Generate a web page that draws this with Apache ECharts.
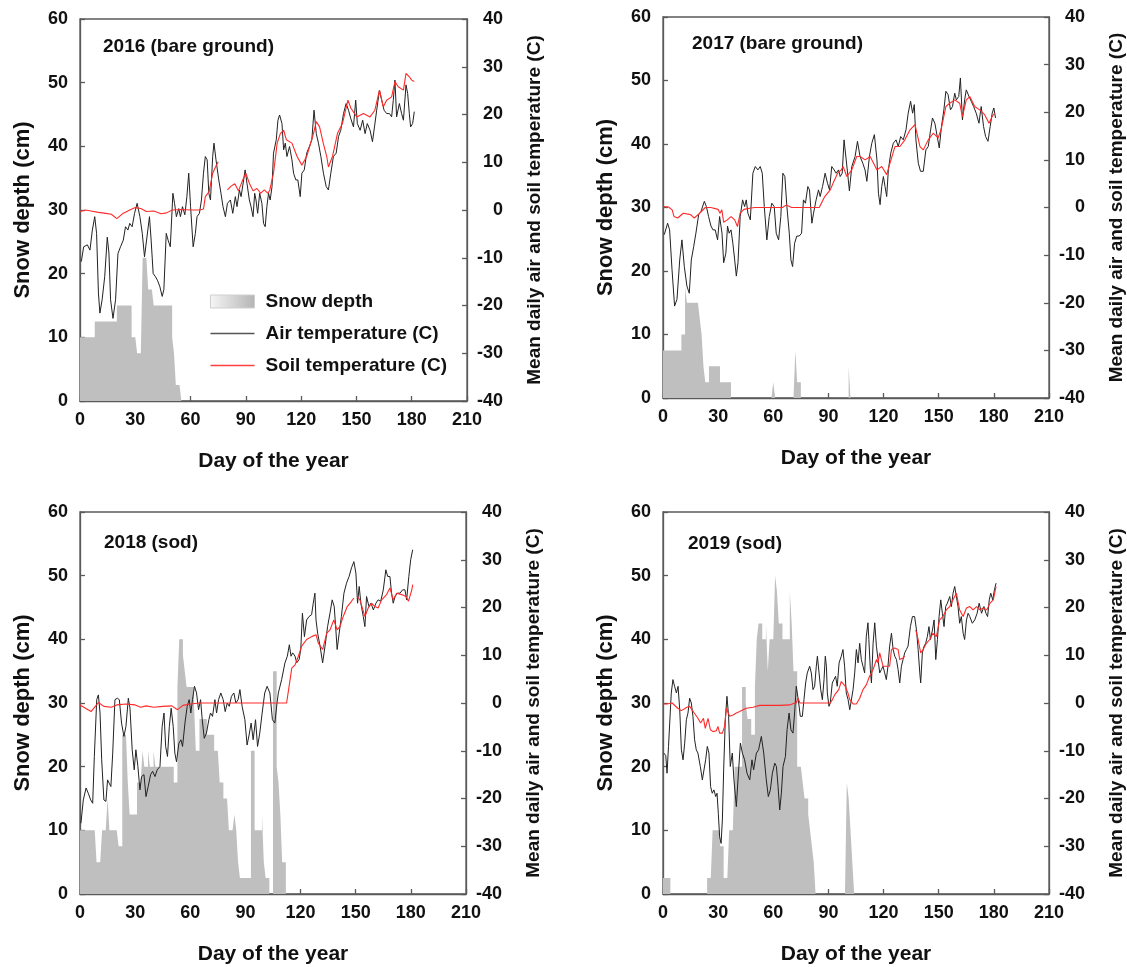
<!DOCTYPE html>
<html><head><meta charset="utf-8">
<script src="https://cdn.jsdelivr.net/npm/echarts@6/dist/echarts.min.js"></script>
<style>html,body{margin:0;padding:0;background:#fff}#c{width:1127px;height:967px}</style>
</head><body><div id="c"></div>
<script>
// ---------- DATA ----------
const panelTitles = ['2016 (bare ground)', '2017 (bare ground)', '2018 (sod)', '2019 (sod)'];
const xTicks = [0, 30, 60, 90, 120, 150, 180, 210];
const snowTicks = [0, 10, 20, 30, 40, 50, 60];
const tempTicks = [-40, -30, -20, -10, 0, 10, 20, 30, 40];

// daily snow depth (cm), index = day of year (0 ...), days after the array end = 0
const snow2016 = [10,10,10,10,10,10,10,10,
 12.5,12.5,12.5,12.5,12.5,12.5,12.5,12.5,12.5,12.5,12.5,12.5,
 15,15,15,15,15,15,15,15,
 10,10,10,7.5,7.5,7.5,22.5,22.5,22.5,17.5,17.5,17.5,
 15,15,15,15,15,15,15,15,15,15,
 10,7.5,2.5,2.5,2.5,0];
const snow2017 = [7.5,7.5,7.5,7.5,7.5,7.5,7.5,7.5,7.5,7.5,
 10,10,17.5,15,15,15,15,15,15,15,
 12.5,10,5,2.5,2.5,5,5,5,5,5,
 5,2.5,2.5,2.5,2.5,2.5,2.5,0,0,0,
 0,0,0,0,0,0,0,0,0,0,
 0,0,0,0,0,0,0,0,0,0,
 2.5,0,0,0,0,0,0,0,0,0,
 0,0,7.5,2.5,2.5,0,0,0,0,0,
 0,0,0,0,0,0,0,0,0,0,
 0,0,0,0,0,0,0,0,0,0,
 0,5,0];
const snow2018 = [10,10,10,10,10,10,10,10,10,5,
 5,5,10,10,10,15,10,10,10,10,
 10,7.5,7.5,25,25,25,17.5,12.5,12.5,12.5,
 12.5,17.5,17.5,17.5,22.5,20,20,22.5,20,20,
 22.5,20,20,20,20,20,20,20,20,20,
 20,17.5,17.5,32.5,40,40,37.5,35,32.5,32.5,
 32.5,32.5,30,22.5,22.5,27.5,27.5,27.5,27.5,25,
 25,25,25,22.5,22.5,22.5,17.5,17.5,15,15,
 15,10,10,10,12.5,10,5,2.5,2.5,2.5,
 2.5,2.5,2.5,22.5,22.5,10,10,10,10,12.5,
 5,2.5,2.5,0,0,35,35,20,17.5,12.5,
 5,5,0];
const snow2019 = [2.5,2.5,2.5,2.5,0,0,0,0,0,0,
 0,0,0,0,0,0,0,0,0,0,
 0,0,0,0,2.5,2.5,2.5,10,10,10,
 10,7.5,7.5,2.5,2.5,2.5,10,10,10,20,
 20,20,20,32.5,32.5,30,27.5,27.5,25,25,
 32.5,40,42.5,42.5,40,40,42.5,35,40,40,
 40,50,47.5,42.5,42.5,40,40,40,40,47.5,
 42.5,35,35,20,20,20,17.5,15,15,12.5,
 10,7.5,5,0,0,0,0,0,0,0,
 0,0,0,0,0,0,0,0,0,0,
 17.5,15,10,5,0];

// mean daily air temperature (C): [day, value]
const air2016 = [[0.7,-10.8],[2,-7.7],[4,-7.3],[5.4,-8.4],[6.7,-4.2],[8,-1.4],[9,-4.9],[10,-17.4],[10.8,-21.6],[12,-18.8],[13.4,-14],[14.8,-5.7],[15.7,-9],[16.6,-18.8],[17.9,-22.7],[19.3,-18.8],[20.6,-9.1],[22,-7.7],[23.5,-6.3],[24.7,-3.5],[26,-4.2],[27,-2.8],[28.3,-3.5],[29.6,-0.7],[31,1.4],[32.5,-1.4],[33.8,-4.9],[35,-9.8],[36,-9.8],[37.7,-1.4],[38.6,-6.3],[39.7,-13.3],[41,-14],[42,-14.7],[43.3,-16],[44.6,-18.1],[45.5,-16.7],[46.8,-4.9],[47.8,-6.3],[49,-7.7],[50.4,3.5],[51.3,1.4],[52.3,-1.4],[53.6,0.3],[54.5,-1.4],[55.6,0.7],[56.9,-1],[58,2.8],[59,7.7],[60,0.7],[61.4,-7.7],[62.6,-4.9],[63.5,-1.4],[64.8,-0.7],[65.9,2.1],[67,7.7],[68,11.2],[69,10.5],[69.9,3.5],[70.8,2.1],[72,11.2],[72.7,14],[73.8,10.5],[75.3,6.3],[76.5,3.5],[77.6,0.7],[78.9,-1.4],[80,1.4],[81.6,2.1],[82.9,-0.7],[84.3,2.8],[85.2,0.7],[86.5,4.2],[87.4,2.8],[88.8,6.3],[89.6,8.4],[90.6,5.6],[91.9,2.1],[92.8,0.7],[93.9,-1.4],[94.8,3.5],[95.5,2.1],[96.4,-0.7],[97.5,3.5],[98.7,1.4],[99.6,-2.8],[100.5,-3.5],[101.4,0.7],[102.3,3.5],[103.2,2.1],[104.2,4.9],[105,11.9],[106.5,14.7],[107.4,18.8],[108.3,19.9],[109.6,18.1],[110.5,12.6],[111.4,14],[112.3,11.2],[113.7,13.3],[115,10.5],[115.9,7.7],[117.1,6.3],[118.2,6.3],[119.5,2.8],[120.4,7.7],[121.7,8.4],[123,11.9],[124.5,13.3],[125.8,14.7],[127,20.9],[128.2,16],[129.4,14],[130.7,11.2],[132.1,7.7],[133.6,4.9],[134.8,4.2],[136.1,7.7],[137.5,11.2],[139,11.9],[140.3,15.4],[141.5,16.7],[143,20.2],[144.4,22.3],[145.7,20.9],[146.9,19.2],[148.4,17.4],[149.6,23],[150.5,18.1],[152,16.7],[153.4,18.8],[154.7,16],[155.9,18.1],[157.4,16.7],[158.7,14.3],[159.8,17.4],[161,20.9],[162.5,25.1],[163.7,23],[165,20.9],[166.4,20.2],[167.9,20.2],[169.1,19.5],[170,23],[170.9,27.2],[171.8,19.5],[173.3,22.3],[174.5,20.2],[175.5,18.8],[176.9,26.2],[177.8,24.4],[178.7,20.2],[179.4,17.4],[180.5,18.1],[181.4,20.6]];
const air2017 = [[0.7,-5.7],[2.5,-3.3],[3.6,-4.7],[4.9,-13],[6.3,-20.7],[7.6,-19.3],[9.1,-11],[10.3,-6.8],[11.6,-12.4],[13,-16.5],[14.3,-18],[15.4,-11],[16.7,-8.2],[17.9,-5.4],[19.4,-1.5],[20.7,-0.8],[22.5,1.3],[23.6,0.2],[24.8,-1.9],[26.1,-3.9],[27.2,-4.7],[28.4,-4.7],[29.7,-6.8],[30.8,-1.9],[32.1,-5.4],[33,-11.6],[34.2,-9.6],[35.1,-3.9],[36,-5.4],[37,-4.7],[38,-7.5],[39,-11],[39.9,-14.4],[40.8,-11.6],[42,-1.9],[43.3,1.6],[44.4,0.2],[45.3,1.6],[46.2,-1.2],[47.5,-2.6],[48.9,7.2],[50.2,8.6],[51.6,7.9],[52.9,8.6],[54,7.2],[55.1,0.2],[56.5,-6.8],[57.8,-1.9],[59.2,0.9],[60.5,0.2],[61.6,-5.4],[62.9,-6.8],[64.1,-1.9],[65.2,7.2],[66.3,6.5],[67.4,0.2],[68.7,-5.4],[69.6,-11],[70.5,-12.4],[71.6,-7.5],[72.8,-6],[74.1,-6],[75.4,-5.4],[76.4,1.6],[77.5,0.9],[78.8,4.4],[79.7,3.7],[81,-3.3],[81.9,-1.2],[83.3,1.6],[84.6,3.7],[85.5,2.3],[86.8,4.4],[88.2,7.2],[89.5,5.1],[90.6,3.7],[91.8,8.6],[93.1,7.9],[94.2,7.2],[95.5,7.9],[96.4,6.5],[97.5,7.2],[98.5,14.2],[99.5,13.8],[100.5,7],[101.4,3.5],[102.7,8.6],[104.5,10.7],[105.8,13.9],[107.2,10.7],[108.7,9.3],[109.9,7.9],[110.9,5.5],[112.3,10.7],[113.6,13.5],[115,15.3],[116.4,10],[117.2,3],[118.1,0.6],[119,4.4],[119.9,6.5],[120.8,4.4],[121.7,2.3],[122.6,7.9],[123.9,11.4],[125.3,13.5],[126.8,14.2],[128,12.8],[129.3,14.9],[130.7,14.2],[132.2,16.3],[133.4,19.8],[134.7,22.3],[135.8,19.8],[136.7,21.6],[137.6,14.2],[138.9,9.3],[140.1,7.6],[141.6,7.6],[143,12.1],[144.3,12.8],[145.6,16.3],[146.6,18.8],[147.9,17.7],[149.2,14.9],[150.3,12.5],[151.5,17],[152.8,20.5],[153.9,24.4],[155.1,23.7],[156.4,20.5],[157.5,21.2],[158.7,24],[159.6,22.6],[160.9,23.3],[161.8,27.2],[162.9,18.4],[164.1,22.6],[165,24.7],[166.5,23.3],[167.7,22.3],[169,21.2],[170.4,19.8],[171.9,17.7],[173.1,21.2],[174.4,17],[175.5,14.9],[176.8,13.9],[178,17],[179.1,19.8],[180,20.9],[180.9,18.8]];
const air2018 = [[0.5,-25.2],[1.8,-20.3],[3.3,-17.8],[4.5,-18.9],[5.8,-20.3],[6.9,-21],[7.8,-11.2],[9.1,0.7],[10,1.7],[10.9,-2.1],[11.8,-11.9],[13,-20.3],[14.1,-20.6],[15,-16.1],[15.9,-16.8],[16.8,-17.5],[17.8,-10.5],[19,0.7],[20.3,1],[21.4,0.7],[22.6,-4.2],[23.9,-7],[25,-4.9],[26.3,1],[27.2,-1.1],[28.4,-9.8],[29.5,-14],[30.4,-9.8],[31.5,-13.3],[32.6,-18.2],[33.5,-15.4],[34.8,-15],[35.9,-19.6],[37.1,-17.5],[38.4,-15],[39.5,-14.3],[40.8,-15.4],[42,-14],[43.5,-13.3],[44.7,-4.9],[45.7,-2.1],[46.6,-9.1],[47.6,-11.2],[48.6,-4.9],[49.6,-1.1],[50.7,-4.9],[51.6,-10.5],[52.5,-12.3],[53.8,-8.4],[54.9,-7.7],[55.8,-9.1],[57.1,-4.2],[58.3,-0.7],[59.4,0.7],[60.3,-2.1],[61.2,0.7],[62.3,3.5],[63.4,2.1],[64.5,-1.4],[65.6,0.7],[66.5,-3.5],[67.6,-7.4],[68.8,-6.3],[70.1,-3.5],[71,-2.1],[72.1,-2.8],[73.4,0.7],[74.3,-2.1],[75.4,0.7],[76.6,2.1],[77.9,0.7],[79,-1.8],[80.1,0],[81.2,-0.7],[82.4,1.4],[83.7,2.1],[84.8,0],[86,0.7],[87,2.8],[88.2,-0.7],[89.7,-3.5],[90.9,-8.8],[92,-6.7],[93.1,-4.2],[94.2,-7.7],[95.5,-3.5],[96.6,-9.1],[97.8,-6.3],[99.1,-2.1],[100.5,2.1],[101.8,3.5],[103.3,2.1],[104.7,-3.5],[106,-4.2],[107.2,0],[107.9,2.1],[109.7,4.9],[111.5,8.4],[112.8,9.8],[113.9,12.2],[114.8,9.8],[115.7,10.5],[117,9.8],[117.9,8.4],[119.2,9.1],[120.1,11.2],[121,18.8],[122.1,13.9],[123.3,17.4],[124.6,18.1],[126,18.5],[126.9,20.9],[127.8,23],[128.4,17.4],[129.3,14.6],[130.6,11.9],[132,8.4],[133.3,11.9],[134.7,16],[136,18.8],[137.2,21.6],[138.3,20.2],[139.2,15.3],[139.9,11.2],[141,14.6],[142.2,18.1],[143.6,23],[145,25.1],[146.4,26.5],[147.7,28.3],[149,29.6],[150.1,27.2],[151,20.9],[151.9,24.4],[152.8,20.9],[154.1,18.1],[155,16],[155.9,22.3],[157.2,20.2],[158.3,20.9],[159.6,19.5],[161,20.9],[162.2,21.6],[163.6,21.3],[165,23.7],[166.4,27.9],[167.4,26.5],[168.6,26.5],[169.5,23],[170.4,20.9],[171.4,22.3],[172.6,23],[174.1,23],[175.5,23.7],[176.8,23.7],[177.7,21.6],[178.9,26.5],[179.9,30],[181,32.1]];
const air2019 = [[0.5,-10.5],[1.5,-11],[2.2,-14.7],[3,-9.1],[4.5,2.1],[5.4,4.9],[6.3,3.5],[7.3,2.1],[8.2,3.5],[9.1,-1.4],[10,-9.8],[10.9,-11.9],[11.8,-8.4],[12.7,-3.5],[13.6,-2.1],[14.5,1],[15.4,0],[16.3,-2.8],[17.2,-7.7],[18.1,-9.8],[19,-10.5],[20.3,-13.3],[21.4,-16.1],[22.1,-16.1],[23.2,-11.9],[24.1,-9.1],[25,-10.5],[25.9,-17.5],[26.8,-18.9],[27.7,-18.2],[28.7,-19.6],[29.4,-18.9],[30.1,-23.1],[30.8,-28],[31.6,-29.4],[32.3,-24.5],[33,-14],[33.9,-3.5],[34.8,1.4],[35.7,-2.8],[36.6,-13.3],[37.7,-10.5],[38.6,-16.1],[39.9,-21.7],[40.8,-16.1],[42.1,-8.4],[43.2,-10.5],[44.4,-11.9],[45.7,-14.7],[47.2,-16.1],[48.4,-11.9],[49.3,-14],[50.8,-10.5],[52,-9.8],[53.5,-7],[54.8,-10.5],[56.2,-16.1],[57.3,-19.6],[58.4,-18.2],[59.5,-14.7],[60.8,-12.6],[61.7,-13.3],[62.6,-17.5],[63.5,-22.4],[64.4,-18.9],[65.3,-13.3],[66.6,-11.2],[67.5,-5.6],[68.6,-2.1],[69.6,-5.6],[70.7,-6.3],[71.6,-2.1],[72.5,3.5],[73.6,0.7],[74.7,-2.8],[75.8,-2.8],[76.7,0.7],[77.6,4.2],[78.5,6.3],[79.8,7.7],[80.7,6.3],[81.6,2.8],[82.5,3.5],[83.4,7.7],[84,9.8],[84.9,6.3],[85.8,2.8],[86.7,0.7],[87.6,4.9],[88.3,9.8],[88.9,7.7],[89.4,2.1],[90.3,-0.7],[91,0],[92.1,4.2],[93,4.9],[93.9,5.6],[94.8,3.5],[95.8,8.4],[97,9.8],[97.9,11.2],[98.8,7.7],[99.7,2.1],[100.7,0.7],[101.6,-1.4],[102.5,-1.4],[103.4,2.8],[104.3,6.3],[105.2,11.2],[106.1,8.4],[107,12.5],[107.9,9.1],[108.8,7.7],[109.7,6.3],[110.6,13.9],[111.5,16.8],[112,13.3],[112.8,7],[113.4,4.2],[114.3,12.5],[115.2,16.8],[116.1,11.9],[117,9.1],[117.9,6.3],[118.8,7],[119.7,7.7],[120.6,6.3],[121.5,4.9],[122.4,7.7],[123.3,11.9],[124.3,14.6],[125.2,11.2],[126.1,9.8],[127,9.1],[127.9,7],[128.8,4.2],[129.7,7.7],[130.6,9.1],[131.5,10.5],[132.4,11.2],[133.3,11.9],[134.6,16],[135.7,18.1],[136.9,18.1],[137.9,15.3],[138.8,11.2],[139.7,6.3],[140.2,4.2],[141.1,10.5],[142,11.9],[142.9,12.5],[143.8,13.9],[144.7,16],[145.5,13.3],[146.6,15.3],[147.5,17.4],[148.4,9.1],[149.3,13.3],[150.2,18.1],[151.1,21.6],[152,18.8],[152.9,16],[153.8,20.2],[154.7,20.9],[156,22.3],[156.9,20.2],[157.8,23],[158.7,24.4],[159.6,24.1],[160.5,20.2],[161.4,16.7],[162.3,18.1],[163.3,14.6],[164.1,13.3],[165.1,17.4],[166,18.8],[166.9,18.1],[168.3,16.7],[169.6,17.4],[170.9,18.8],[172,20.9],[173.3,18.8],[174.6,20.2],[175.7,18.8],[176.6,18.1],[177.5,21.6],[178.3,23],[179.4,21.6],[180.3,23.7],[181.2,25.1]];

// mean daily soil temperature (C): [day, value]; null = no record
const soil2016 = [[0,-0.3],[3,0],[6,-0.2],[10,-0.5],[14,-0.7],[17,-0.9],[20,-1.8],[23,-0.8],[27,0],[30,0.5],[33,0.3],[36,-0.3],[40,-0.2],[44,-0.8],[47,-0.6],[50,0],[55,0.1],[60,0],[65,0],[67,0.2],[68,2.8],[70,3.8],[72,7.7],[73.5,9],[75,10.1],[77,null],[80,4.2],[82,5],[84,5.5],[86,4],[88,6],[90,7.7],[92,5.5],[94,4],[96,4.5],[98,3.5],[100,4.2],[102,3.5],[103,4.2],[105,7.7],[107,14],[108.7,16],[110.5,16.7],[112,14.7],[115,14],[117.8,11.2],[120.4,9.4],[123,11.2],[126.7,16],[128.2,18.5],[130,17.4],[132,14],[133.9,11.2],[134.8,9],[137,11.2],[139.7,16],[142.4,18.1],[145.4,23],[147,21.3],[150.2,19.5],[153.8,20.2],[157.4,19.5],[160,20.9],[162.5,25.1],[164.6,21.6],[166.4,23],[169.1,23.7],[170.9,26.9],[172.7,25.8],[175.5,25.1],[176.9,28.6],[178.7,27.9],[180,27.2],[181.4,26.9]];
const soil2017 = [[0,0.2],[3,0.1],[5,-0.5],[6,-1.9],[8,-2.2],[11,-1.2],[15,-1.5],[17,-2.2],[20,-1.2],[23,0],[26,0],[30,-0.4],[31,-1.2],[32,-0.5],[33,-3.1],[35,-2.6],[37,-1.9],[39,-2.6],[40.5,-4],[42,-1.2],[44,-0.4],[48,-0.1],[50,0],[55,0],[60,0],[65,0],[67,0.5],[70,0],[75,0],[80,0],[85,0],[88,2.3],[91,3.7],[93,5.5],[95,7.2],[97,7.9],[98,8.6],[100,6.5],[102.7,7.9],[105.4,10.7],[107.2,10.7],[110,10],[112.7,10.7],[116.4,7.9],[119,8.6],[121.7,6.9],[123.5,9.3],[126.2,12.8],[128.9,12.8],[131.6,14.2],[134.4,16.3],[137.1,17.4],[139.8,12.8],[141.6,12.1],[144.3,14.2],[147,15.6],[149.7,14.6],[151.5,16.7],[153.9,21.2],[156,21.9],[158.7,22.6],[161.4,21.9],[162.9,19.1],[165,22.6],[166.9,23.3],[169.6,21.2],[172.3,20.5],[175,19.5],[177.4,17.7],[179.1,19.1],[180.4,19.8]];
const soil2018 = [[0,-0.4],[3,-1.1],[6,-1.8],[9,-0.4],[10,0.1],[13,-0.7],[17,-0.9],[20,-0.4],[25,-0.2],[30,-0.4],[33,-0.9],[36,-0.6],[40,-0.9],[45,-0.7],[50,-0.6],[53,-1.4],[56,-0.5],[60,-0.2],[65,0],[70,0],[80,0],[90,0],[100,0],[112.4,0],[114.3,4.9],[115.2,7.3],[117,8],[118.8,9.8],[120.6,11.9],[123.3,13.3],[126,13.9],[128.4,14.3],[129.6,12.6],[132,11.2],[134.2,14.6],[136,15.3],[138.1,17.4],[139.9,15.3],[141.4,16],[143.2,18.1],[145.4,20.2],[147.7,21.3],[149,22],[150,null],[150.9,22.3],[152.3,21.6],[155,18.1],[156.8,19.9],[158.6,20.9],[160.4,20.2],[162.2,19.9],[164.1,21.6],[166.8,22.7],[168.6,24.1],[170.4,21.6],[172.3,23],[175,22.7],[177.4,22.3],[178.7,21.3],[180.5,23.7],[181,24.8]];
const soil2019 = [[0,-0.2],[2,-0.2],[5,0],[8,-1.1],[10,-1.6],[13,-0.9],[14.5,-0.7],[17,-2.1],[19,-3.2],[20.5,-4.2],[22,-3.2],[23,-5.3],[24.5,-3.2],[25.8,-5.6],[27.2,-6],[29,-5.8],[29.9,-4.9],[30.8,-6.3],[32.3,-6.3],[33.5,-4.9],[34.5,-1.1],[35.5,-2.1],[36.3,-2.8],[38.1,-2.5],[39.9,-2.1],[41.7,-1.8],[45.3,-1.1],[49,-0.9],[52.6,-0.5],[63.5,-0.5],[68.9,-0.4],[71,-0.1],[72.5,0],[73.4,1],[74.5,0],[82,0],[91,0],[92,0.6],[93.4,1.7],[94.3,1.4],[95.6,2.8],[97,4.5],[97.9,4.9],[99.2,3.5],[100.6,2.1],[101.6,0.7],[103.4,-0.2],[105.2,-0.2],[107,1],[108.8,2.8],[110.6,3.8],[112.4,5.6],[114.3,7],[116.1,9.1],[117,8.4],[117.9,10.5],[119.7,7.7],[121.5,7.7],[123.3,7.7],[124.3,11.2],[126.1,11.5],[127.9,11.2],[128.8,9.1],[130.6,9.4],[131.5,9.8],[134,null],[137.5,15.3],[138.8,13.3],[140.2,10.5],[141.5,11.2],[143.3,12.5],[145.1,13.3],[146.9,14.6],[148.7,13.9],[150.5,17.4],[152.3,18.1],[154.1,19.5],[156,20.2],[157.8,21.6],[159.6,23],[161.4,19.5],[163.3,18.1],[165.1,19.9],[166.9,20.2],[168.7,19.5],[170.6,20.2],[172.4,19.5],[174.2,19.9],[176.1,19.5],[177.9,20.9],[179.7,21.6],[181.2,24.4]];

const snowAll = [snow2016, snow2017, snow2018, snow2019];
const airAll = [air2016, air2017, air2018, air2019];
const soilAll = [soil2016, soil2017, soil2018, soil2019];

// ---------- LAYOUT / STYLE ----------
const FONT = '"Liberation Sans", Arial, Helvetica, sans-serif';
const gridBoxes = [
  {left: 80, top: 19, width: 387, height: 382},
  {left: 663, top: 17, width: 386, height: 381},
  {left: 80, top: 512, width: 386, height: 382},
  {left: 663, top: 512, width: 386, height: 382}
];
const titlePos = [[103, 37], [692, 34], [104, 533], [688, 534]];
const AXC = '#5a5a5a';
const txt = {fontFamily: FONT, fontWeight: 'bold', color: '#111'};
const LINE_ICON = 'path://M0,0 L44,0 L44,1.3 L0,1.3 Z';

const chart = echarts.init(document.getElementById('c'), null, {renderer: 'canvas'});

const grid = [], xAxis = [], yAxis = [], series = [], title = [];
gridBoxes.forEach((g, p) => {
  grid.push(Object.assign({show: true, borderColor: AXC, borderWidth: 1.3, backgroundColor: 'transparent', outerBoundsMode: 'none', containLabel: false}, g));
  title.push({text: panelTitles[p], left: titlePos[p][0], top: titlePos[p][1], padding: 0,
    textStyle: Object.assign({fontSize: 19}, txt)});
  xAxis.push({
    type: 'value', gridIndex: p, min: xTicks[0], max: xTicks[xTicks.length - 1],
    interval: xTicks[1] - xTicks[0],
    name: 'Day of the year', nameLocation: 'middle', nameGap: 50,
    nameTextStyle: Object.assign({fontSize: 21}, txt),
    axisLine: {show: true, lineStyle: {color: AXC, width: 1.3}},
    axisTick: {show: true, inside: true, length: 5, lineStyle: {color: AXC, width: 1.3}},
    axisLabel: Object.assign({fontSize: 18, margin: 10, showMinLabel: true, showMaxLabel: true}, txt),
    splitLine: {show: false}
  });
  yAxis.push({
    type: 'value', gridIndex: p, position: 'left', min: snowTicks[0], max: snowTicks[snowTicks.length - 1],
    interval: snowTicks[1] - snowTicks[0],
    name: 'Snow depth (cm)', nameLocation: 'middle', nameGap: 46, nameRotate: 90,
    nameTextStyle: Object.assign({fontSize: 22}, txt),
    axisLine: {show: true, lineStyle: {color: AXC, width: 1.3}},
    axisTick: {show: true, inside: true, length: 5, lineStyle: {color: AXC, width: 1.3}},
    axisLabel: Object.assign({fontSize: 18, margin: 12}, txt),
    splitLine: {show: false}
  });
  yAxis.push({
    type: 'value', gridIndex: p, position: 'right', min: tempTicks[0], max: tempTicks[tempTicks.length - 1],
    interval: tempTicks[1] - tempTicks[0],
    name: 'Mean daily air and soil temperature (C)', nameLocation: 'middle', nameGap: 58, nameRotate: 90,
    nameTextStyle: Object.assign({fontSize: 19}, txt),
    axisLine: {show: true, lineStyle: {color: AXC, width: 1.3}},
    axisTick: {show: true, inside: true, length: 5, lineStyle: {color: AXC, width: 1.3}},
    axisLabel: Object.assign({fontSize: 18, margin: 36, align: 'right'}, txt),
    splitLine: {show: false}
  });
  series.push({
    name: 'Snow depth', type: 'line', xAxisIndex: p, yAxisIndex: 2 * p, step: 'end',
    symbol: 'none', color: '#bdbdbd', lineStyle: {width: 0, color: '#bdbdbd'},
    areaStyle: {color: '#bfbfbf', opacity: 1}, z: 1,
    data: snowAll[p].map((v, i) => [i, v])
  });
  series.push({
    name: 'Air temperature (C)', type: 'line', xAxisIndex: p, yAxisIndex: 2 * p + 1,
    symbol: 'none', color: '#222', lineStyle: {width: 1, color: '#222'}, z: 3,
    data: airAll[p]
  });
  series.push({
    name: 'Soil temperature (C)', type: 'line', xAxisIndex: p, yAxisIndex: 2 * p + 1,
    symbol: 'none', color: '#ff2a2a', lineStyle: {width: 1.1, color: '#ff2a2a'}, z: 4,
    connectNulls: false, data: soilAll[p]
  });
});

chart.setOption({
  animation: false,
  backgroundColor: '#fff',
  title, grid, xAxis, yAxis, series,
  legend: {
    orient: 'vertical', left: 210, top: 292, padding: 0, itemWidth: 44, itemHeight: 13, itemGap: 13,
    selectedMode: false,
    textStyle: Object.assign({fontSize: 19, padding: [0, 0, 0, 6]}, txt),
    data: [
      {name: 'Snow depth', icon: 'rect',
       itemStyle: {color: new echarts.graphic.LinearGradient(0, 0, 1, 0, [{offset: 0, color: '#f6f6f6'}, {offset: 1, color: '#b4b4b4'}]),
                   borderColor: '#cfcfcf', borderWidth: 1}},
      {name: 'Air temperature (C)', icon: LINE_ICON, itemStyle: {color: '#555', borderWidth: 0}},
      {name: 'Soil temperature (C)', icon: LINE_ICON, itemStyle: {color: '#ff4040', borderWidth: 0}}
    ]
  }
});
</script></body></html>
